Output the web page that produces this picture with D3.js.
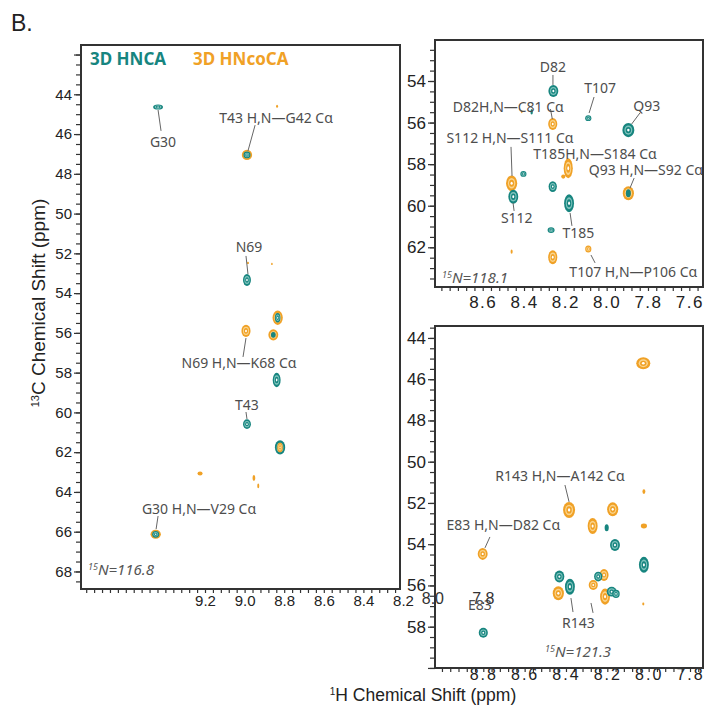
<!DOCTYPE html>
<html><head><meta charset="utf-8">
<script src="https://cdn.jsdelivr.net/npm/d3@7"></script>
<style>body{margin:0;background:#fff}svg{display:block}</style>
</head><body>
<svg id="fig" width="704" height="706"></svg>
<script>
// Peak lists: [1H ppm, 13C ppm, 1H half-width (ppm), 13C half-width (ppm)]
// Strip at 15N = 116.8
const hncaA = [
  [9.437, 44.64, 0.025, 0.13], [8.988, 47.05, 0.018, 0.17], [8.988, 53.34, 0.02, 0.3],
  [8.833, 55.24, 0.014, 0.24], [8.855, 56.10, 0.012, 0.15], [8.838, 58.37, 0.02, 0.36],
  [8.988, 60.59, 0.02, 0.24], [8.821, 61.76, 0.026, 0.36], [9.449, 66.13, 0.018, 0.17]
];
const hncoA = [
  [8.988, 47.05, 0.026, 0.26], [8.836, 44.60, 0.005, 0.08], [8.983, 52.48, 0.005, 0.06],
  [8.862, 52.53, 0.004, 0.06], [8.993, 55.90, 0.023, 0.31], [8.833, 55.24, 0.026, 0.36],
  [8.855, 56.10, 0.025, 0.28], [8.821, 61.76, 0.014, 0.24], [9.225, 63.07, 0.013, 0.1],
  [8.953, 63.30, 0.007, 0.15], [8.931, 63.70, 0.005, 0.12], [9.449, 66.13, 0.026, 0.23]
];
// Strip at 15N = 118.1
const hncaB = [
  [8.258, 54.48, 0.024, 0.29], [8.089, 55.79, 0.015, 0.14], [7.895, 56.36, 0.029, 0.34],
  [8.363, 55.48, 0.006, 0.13], [8.452, 59.57, 0.024, 0.34], [8.403, 58.47, 0.015, 0.14],
  [8.261, 59.08, 0.02, 0.26], [8.182, 59.88, 0.024, 0.43], [8.269, 61.17, 0.017, 0.14],
  [7.895, 59.40, 0.012, 0.19]
];
const hncoB = [
  [8.261, 56.07, 0.022, 0.29], [8.411, 55.48, 0.004, 0.07], [8.460, 58.92, 0.027, 0.38],
  [8.186, 58.20, 0.022, 0.48], [8.210, 58.60, 0.01, 0.1], [8.261, 62.48, 0.022, 0.34],
  [8.089, 62.08, 0.015, 0.17], [8.460, 62.21, 0.005, 0.1], [7.895, 59.40, 0.027, 0.34]
];
// Strip at 15N = 121.3
const hncaC = [
  [8.203, 53.20, 0.01, 0.17], [8.163, 54.04, 0.024, 0.29], [8.023, 55.00, 0.024, 0.39],
  [8.432, 55.57, 0.024, 0.29], [8.381, 56.06, 0.024, 0.39], [8.244, 55.57, 0.02, 0.24],
  [8.179, 56.30, 0.024, 0.24], [8.158, 56.41, 0.018, 0.2], [8.800, 58.29, 0.022, 0.24]
];
const hncoC = [
  [8.026, 45.23, 0.034, 0.29], [8.023, 51.45, 0.007, 0.12], [8.385, 52.34, 0.029, 0.39],
  [8.174, 52.31, 0.027, 0.34], [8.271, 53.12, 0.024, 0.39], [8.023, 53.12, 0.015, 0.12],
  [8.803, 54.47, 0.024, 0.29], [8.437, 56.38, 0.027, 0.34], [8.216, 55.49, 0.022, 0.29],
  [8.268, 55.98, 0.022, 0.24], [8.211, 56.54, 0.024, 0.39], [8.026, 56.90, 0.005, 0.07]
];

// Assignment labels: [text, 1H ppm (centre), 13C ppm (baseline)]
const notesA = [
  ["G30", 9.412, 46.65], ["T43 H,N\u2014G42 C\u03b1", 8.841, 45.44], ["N69", 8.978, 51.93],
  ["N69 H,N\u2014K68 C\u03b1", 9.028, 57.77], ["T43", 8.988, 59.88], ["G30 H,N\u2014V29 C\u03b1", 9.23, 65.11]
];
const notesB = [
  ["D82", 8.26, 53.57], ["T107", 8.032, 54.58], ["Q93", 7.806, 55.44],
  ["D82H,N\u2014C81 C\u03b1", 8.476, 55.49], ["S112 H,N\u2014S111 C\u03b1", 8.468, 56.98],
  ["T185H,N\u2014S184 C\u03b1", 8.056, 57.75], ["Q93 H,N\u2014S92 C\u03b1", 7.81, 58.52],
  ["S112", 8.435, 60.83], ["T185", 8.137, 61.55], ["T107 H,N\u2014P106 C\u03b1", 7.871, 63.43]
];
const notesC = [
  ["R143 H,N\u2014A142 C\u03b1", 8.429, 50.94], ["E83 H,N\u2014D82 C\u03b1", 8.703, 53.31],
  ["R143", 8.34, 58.06], ["E83", 8.816, 57.19]
];
// Leader lines: [1H from, 13C from, 1H to, 13C to]
const leadersA = [
  [9.437, 44.79, 9.422, 45.84], [8.947, 45.55, 8.983, 46.85], [8.993, 52.13, 8.983, 53.04],
  [8.993, 56.26, 9.008, 57.21], [8.993, 59.98, 8.988, 60.33], [9.437, 65.21, 9.447, 65.87]
];
const leadersB = [
  [8.26, 53.71, 8.26, 54.19], [8.061, 54.77, 8.085, 55.54], [7.839, 55.54, 7.879, 56.07],
  [8.272, 55.35, 8.263, 55.83], [8.463, 57.17, 8.458, 58.57], [7.867, 58.67, 7.887, 59.15],
  [8.453, 59.87, 8.448, 60.25], [8.177, 60.35, 8.168, 60.97], [8.076, 62.37, 8.056, 62.75]
];
const leadersC = [
  [8.405, 51.13, 8.385, 51.95], [8.768, 53.65, 8.792, 54.18],
  [8.376, 56.61, 8.366, 57.29], [8.279, 56.85, 8.269, 57.33]
];
// 15N plane of each strip
const planes = ["116.8", "118.1", "121.3"];
// Labelled ticks
const hTicksA = [9.2, 9.0, 8.8, 8.6, 8.4, 8.2];
const cTicksA = [44, 46, 48, 50, 52, 54, 56, 58, 60, 62, 64, 66, 68];
const hTicksB = [8.6, 8.4, 8.2, 8.0, 7.8, 7.6];
const cTicksB = [54, 56, 58, 60, 62];
const hTicksC = [8.8, 8.6, 8.4, 8.2, 8.0, 7.8];
const cTicksC = [44, 46, 48, 50, 52, 54, 56, 58];
const legendItems = ["3D HNCA", "3D HNcoCA"];

const TEAL = "#17857f", TEAL_L = "#7fc3bd";
const ORANGE = "#f0a126", ORANGE_L = "#fad48c";
const AX_FONT = "'Liberation Sans', Arial, sans-serif";
const TXT_FONT = "'Noto Sans', sans-serif";
const INK = "#222", NOTE = "#4d4d4d";

const svg = d3.select("#fig");

const panels = [
  { box: [81, 45, 400, 589], x: d3.scaleLinear([9.2, 8.2], [205, 403]), y: d3.scaleLinear([44, 66], [94.3, 531.7]),
    hnca: hncaA, hnco: hncoA, notes: notesA, leaders: leadersA, plane: planes[0], hTicks: hTicksA, cTicks: cTicksA,
    tickFont: 15, xFont: 15, pad: 6, spacing: 0, planeAt: [9.791, 68.18] },
  { box: [435, 40, 703, 287], x: d3.scaleLinear([8.6, 7.6], [482.7, 689.3]), y: d3.scaleLinear([54, 62], [81, 247.3]),
    hnca: hncaB, hnco: hncoB, notes: notesB, leaders: leadersB, plane: planes[1], hTicks: hTicksB, cTicks: cTicksB,
    tickFont: 17, xFont: 17, pad: 9, spacing: 1.5, planeAt: [8.797, 63.72] },
  { box: [435, 326, 703, 668], x: d3.scaleLinear([8.8, 7.8], [483.3, 690]), y: d3.scaleLinear([50, 58], [461.7, 626.7]),
    hnca: hncaC, hnco: hncoC, notes: notesC, leaders: leadersC, plane: planes[2], hTicks: hTicksC, cTicks: cTicksC,
    tickFont: 17, xFont: 16, pad: 1, spacing: 2, planeAt: [8.501, 59.47] }
];

panels.forEach((p, i) => {
  const [x0, y0, x1, y1] = p.box;
  const g = svg.append("g");
  const clipId = "clip" + i;
  svg.append("clipPath").attr("id", clipId).append("rect")
    .attr("x", x0).attr("y", y0).attr("width", x1 - x0).attr("height", y1 - y0);

  // axes: minor ticks every 0.5 ppm (13C) and 0.04 ppm (1H), majors every 2 ppm
  const cLo = p.y.invert(y0), cHi = p.y.invert(y1);
  const cMinor = d3.range(Math.ceil(cLo * 2), Math.floor(cHi * 2) + 1).map(k => k / 2);
  const cMajor = cMinor.filter(v => v % 2 === 0);
  const hA = p.x.invert(x0), hB = p.x.invert(x1);
  const hMinor = d3.range(Math.ceil(hB / 0.04 - 1e-6), Math.floor(hA / 0.04 + 1e-6) + 1).map(k => +(k * 0.04).toFixed(2));

  const yMinor = g.append("g").attr("transform", `translate(${x0},0)`)
    .call(d3.axisLeft(p.y).tickValues(cMinor).tickSize(5).tickFormat(""));
  const yMajor = g.append("g").attr("transform", `translate(${x0},0)`)
    .call(d3.axisLeft(p.y).tickValues(cMajor).tickSize(7).tickPadding(2)
      .tickFormat(d => p.cTicks.includes(d) ? d : ""));
  const xMinor = g.append("g").attr("transform", `translate(0,${y1})`)
    .call(d3.axisBottom(p.x).tickValues(hMinor).tickSize(4).tickFormat(""));
  const xLab = g.append("g").attr("transform", `translate(0,${y1})`)
    .call(d3.axisBottom(p.x).tickValues(p.hTicks).tickSize(0).tickPadding(p.pad).tickFormat(d3.format(".1f")));
  [yMinor, yMajor, xMinor, xLab].forEach(a => {
    a.select(".domain").remove();
    a.selectAll("line").attr("stroke", "#333").attr("stroke-width", 1.2);
    a.selectAll("text").attr("font-family", AX_FONT).attr("font-size", p.tickFont).attr("fill", INK);
  });
  xLab.selectAll("text").attr("font-size", p.xFont).attr("letter-spacing", p.spacing);

  // peaks, drawn largest first so smaller contours sit on top
  const peaks = p.hnca.map(d => ({ d, c: TEAL, l: TEAL_L }))
    .concat(p.hnco.map(d => ({ d, c: ORANGE, l: ORANGE_L })));
  peaks.forEach(o => {
    o.rx = Math.abs(p.x(o.d[0] + o.d[2]) - p.x(o.d[0]));
    o.ry = Math.abs(p.y(o.d[1] + o.d[3]) - p.y(o.d[1]));
  });
  peaks.sort((a, b) => b.rx * b.ry - a.rx * a.ry);
  const pg = g.append("g").attr("clip-path", `url(#${clipId})`);
  peaks.forEach(o => {
    const cx = p.x(o.d[0]), cy = p.y(o.d[1]);
    const big = o.rx > 2.5 && o.ry > 2.5;
    const layers = big ? [[1, o.c], [0.66, o.l], [0.45, o.c], [0.2, "#fff"]] : [[1, o.c]];
    layers.forEach(([s, f]) => {
      pg.append("ellipse").attr("cx", cx).attr("cy", cy)
        .attr("rx", o.rx * s).attr("ry", o.ry * s).attr("fill", f);
    });
  });

  // leader lines and assignment labels
  p.leaders.forEach(l => {
    g.append("line").attr("x1", p.x(l[0])).attr("y1", p.y(l[1]))
      .attr("x2", p.x(l[2])).attr("y2", p.y(l[3]))
      .attr("stroke", "#666").attr("stroke-width", 1);
  });
  p.notes.forEach(n => {
    g.append("text").attr("x", p.x(n[1])).attr("y", p.y(n[2]))
      .attr("text-anchor", "middle").attr("font-family", TXT_FONT).attr("font-size", 14)
      .attr("fill", NOTE).text(n[0]);
  });

  // 15N plane tag
  const t = g.append("text").attr("x", p.x(p.planeAt[0])).attr("y", p.y(p.planeAt[1]))
    .attr("font-family", TXT_FONT).attr("font-style", "italic").attr("fill", "#555").attr("font-size", 15);
  t.append("tspan").attr("font-size", 9).attr("dy", -5).text("15");
  t.append("tspan").attr("dy", 5).text("N=" + p.plane);

  // frame
  g.append("rect").attr("x", x0).attr("y", y0).attr("width", x1 - x0).attr("height", y1 - y0)
    .attr("fill", "none").attr("stroke", "#333").attr("stroke-width", 2);
});

// stray axis numerals printed inside the 121.3 strip
const pc = panels[2];
[["8.0", 9.044], ["7.8", 8.8]].forEach(([s, h]) => {
  svg.append("text").attr("x", pc.x(h)).attr("y", pc.y(56.9)).attr("text-anchor", "middle")
    .attr("font-family", AX_FONT).attr("font-size", 16).attr("fill", "#333").text(s);
});

// legend
svg.append("text").attr("x", 90).attr("y", 65).attr("font-family", TXT_FONT).attr("font-weight", "bold")
  .attr("font-size", 17).attr("fill", TEAL).text(legendItems[0]);
svg.append("text").attr("x", 193).attr("y", 65).attr("font-family", TXT_FONT).attr("font-weight", "bold")
  .attr("font-size", 17).attr("fill", ORANGE).text(legendItems[1]);

// panel letter
svg.append("text").attr("x", 11).attr("y", 31).attr("font-family", AX_FONT)
  .attr("font-size", 23).attr("fill", INK).text("B.");

// axis titles
const yt = svg.append("text").attr("transform", "translate(45,303) rotate(-90)")
  .attr("text-anchor", "middle").attr("font-family", AX_FONT).attr("font-size", 19).attr("fill", INK);
yt.append("tspan").attr("font-size", 11).attr("dy", -6).text("13");
yt.append("tspan").attr("dy", 6).text("C Chemical Shift (ppm)");
const xt = svg.append("text").attr("x", 423).attr("y", 701)
  .attr("text-anchor", "middle").attr("font-family", AX_FONT).attr("font-size", 17.5).attr("fill", INK);
xt.append("tspan").attr("font-size", 10).attr("dy", -6).text("1");
xt.append("tspan").attr("dy", 6).text("H Chemical Shift (ppm)");
</script>
</body></html>
